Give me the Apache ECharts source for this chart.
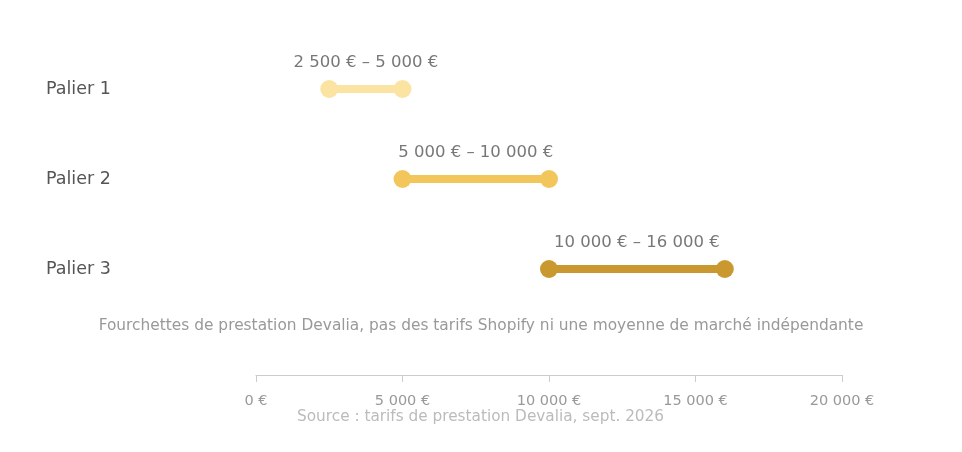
<!DOCTYPE html>
<html><head><meta charset="utf-8">
<script src="https://cdn.jsdelivr.net/npm/echarts@6/dist/echarts.min.js"></script>
<style>html,body{margin:0;padding:0;background:#fff}#c{width:962px;height:452px}</style>
</head><body><div id="c"></div>
<script>
const categories = ['Palier 1', 'Palier 2', 'Palier 3'];
const lows = [2500, 5000, 10000];
const highs = [5000, 10000, 16000];
const colors = ['#fbe3a2', '#f2c65b', '#c9992f'];
const xTicks = [0, 5000, 10000, 15000, 20000];
const note = 'Fourchettes de prestation Devalia, pas des tarifs Shopify ni une moyenne de marché indépendante';
const source = 'Source : tarifs de prestation Devalia, sept. 2026';

const fmt = v => String(v).replace(/\B(?=(\d{3})+(?!\d))/g, ' ') + ' €';
const font = "'DejaVu Sans', sans-serif";

const series = categories.map((c, i) => ({
  type: 'line',
  data: [[lows[i], c], [highs[i], c]],
  symbol: 'circle',
  symbolSize: 18,
  lineStyle: { color: colors[i], width: 8 },
  itemStyle: { color: colors[i] },
  silent: true,
  z: 2
}));
series.push({
  type: 'scatter',
  symbolSize: 0,
  data: categories.map((c, i) => ({ value: [(lows[i] + highs[i]) / 2, c], name: fmt(lows[i]) + ' – ' + fmt(highs[i]) })),
  label: {
    show: true, position: 'top', distance: 18,
    formatter: p => p.name,
    fontFamily: font, fontSize: 16.5, color: '#555'
  },
  silent: true
});

const chart = echarts.init(document.getElementById('c'));
chart.setOption({
  animation: false,
  textStyle: { fontFamily: font },
  grid: { left: 256, width: 586, top: 44, height: 270 },
  xAxis: {
    type: 'value', min: 0, max: 20000, interval: 5000, offset: 61,
    axisLine: { show: true, lineStyle: { color: '#ccc' } },
    axisTick: { show: true, length: 7, lineStyle: { color: '#ccc' } },
    splitLine: { show: false },
    axisLabel: { margin: 19, fontFamily: font, fontSize: 14.5, color: '#999', formatter: v => fmt(v) }
  },
  yAxis: {
    type: 'category', data: categories, inverse: true,
    axisLine: { show: false }, axisTick: { show: false }, splitLine: { show: false },
    axisLabel: { align: 'left', margin: 210, fontFamily: font, fontSize: 17.5, color: '#555' }
  },
  graphic: [
    { type: 'text', left: 'center', top: 318, style: { text: note, fontFamily: font, fontSize: 15.4, fill: '#999' } },
    { type: 'text', left: 297, top: 410, style: { text: source, fontFamily: font, fontSize: 15.3, fill: '#bbb' } }
  ],
  series
});
</script></body></html>
